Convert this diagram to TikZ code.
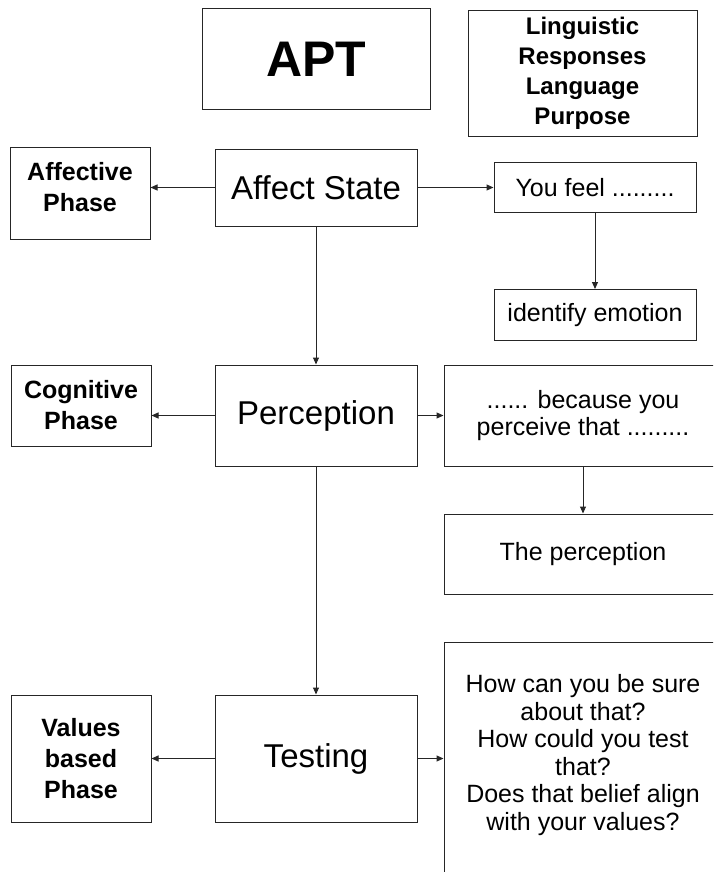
\documentclass[tikz,border=0pt]{standalone}
\usepackage{fontspec}
\setmainfont{Liberation Sans}
\usetikzlibrary{arrows.meta, positioning}

\tikzset{
    box/.style={draw=black!85, line width=1pt, align=center, inner sep=0pt},
    titlebox/.style={box, font=\bfseries\fontsize{50}{60}\selectfont},
    listbox/.style={box, font=\bfseries\fontsize{24}{30}\selectfont},
    phasebox/.style={box, minimum width=140pt, font=\bfseries\fontsize{25}{31}\selectfont},
    mainbox/.style={box, minimum width=202pt, font=\fontsize{33}{38}\selectfont},
    sidebox/.style={box, minimum width=202pt, font=\fontsize{25}{28}\selectfont},
    wordbox/.style={box, minimum width=278pt, font=\fontsize{25}{27.5}\selectfont},
    link/.style={draw=black!85, line width=1pt, -{Triangle[length=7pt,width=6pt]}}
}

\begin{document}
\begin{tikzpicture}[x=1pt, y=-1pt]
    \useasboundingbox (0,0) rectangle (713,872);
    \clip (0,0) rectangle (713,872);
    % top row
    \node[titlebox, minimum width=228pt, minimum height=101pt] (apt) at (316,59.5) {APT};
    \node[listbox, minimum width=229pt, minimum height=126pt, right=37pt of apt, yshift=-14pt] (ling)
        {Linguistic\\Responses\\Language\\Purpose};
    % affective row
    \node[mainbox, minimum height=77pt] (state) at (316,187.5) {Affect State};
    \node[phasebox, minimum height=92pt, left=64pt of state, yshift=-5.5pt] (affph)
        {Affective\\Phase\\[-19pt]\mbox{}};
    \node[sidebox, minimum height=50pt, right=76pt of state] (feel) {You feel .........};
    \node[sidebox, minimum height=51pt, below=76pt of feel] (emot) {identify emotion};
    % cognitive row
    \node[mainbox, minimum height=101pt] (perc) at (316,415.5) {Perception};
    \node[phasebox, minimum height=81pt, left=63pt of perc, yshift=10pt] (cogph) {Cognitive\\Phase};
    \node[wordbox, minimum height=101pt, right=26pt of perc] (because)
        {...... because you\\perceive that .........};
    \node[wordbox, minimum height=80pt, below=47pt of because] (theperc) {The perception};
    % values row
    \node[mainbox, minimum height=127pt] (test) at (316,758.5) {Testing};
    \node[phasebox, minimum height=127pt, left=63pt of test] (valph) {Values\\based\\Phase};
    \node[wordbox, minimum height=232pt, right=26pt of test] (how)
        {How can you be sure\\about that?\\How could you test\\that?\\Does that belief align\\with your values?\\[-15pt]\mbox{}};
    % connectors
    \draw[link] (state.west) -- (state.west -| affph.east);
    \draw[link] (state.east) -- (state.east -| feel.west);
    \draw[link] (feel) -- (emot);
    \draw[link] (state) -- (perc);
    \draw[link] (perc.west) -- (perc.west -| cogph.east);
    \draw[link] (perc) -- (because);
    \draw[link] (because) -- (theperc);
    \draw[link] (perc) -- (test);
    \draw[link] (test) -- (valph);
    \draw[link] (test.east) -- (test.east -| how.west);
\end{tikzpicture}
\end{document}
